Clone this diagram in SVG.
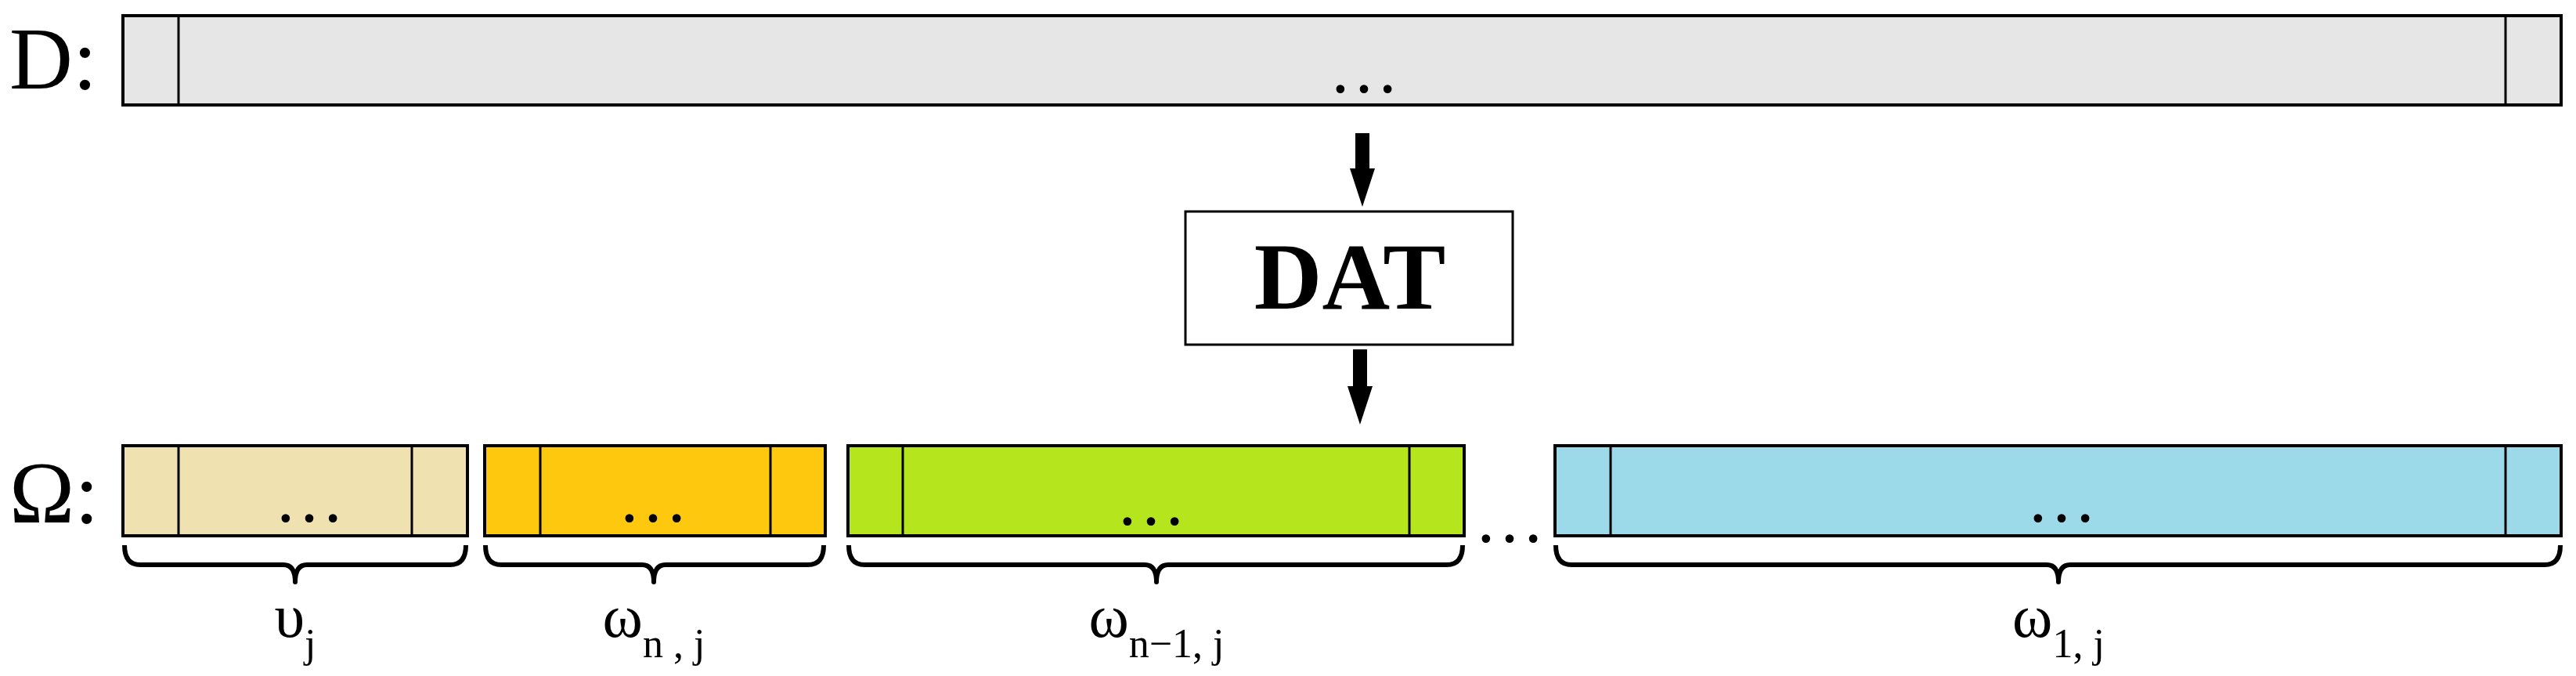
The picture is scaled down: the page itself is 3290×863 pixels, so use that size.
<svg xmlns="http://www.w3.org/2000/svg" width="3290" height="863" viewBox="0 0 3290 863" font-family="'Liberation Serif', 'Times New Roman', serif">
<style>
.box{stroke:#000;stroke-width:4}
.div{stroke:#000;stroke-width:3}
.brace{fill:none;stroke:#000;stroke-width:6;stroke-linejoin:round}
.dots{font-size:90px;text-anchor:middle}
.lab{font-size:78px;text-anchor:middle}
</style>
<rect width="3290" height="863" fill="#fff"/>
<g id="labelD"><text font-family="Liberation Serif, serif" x="12" y="113" font-size="112">D:</text></g>
<g id="labelOmega"><text font-family="Liberation Serif, serif" x="12" y="667" font-size="112">Ω:</text></g>
<g id="D">
<rect class="box" x="157" y="20" width="3114" height="114" fill="#e6e6e6"/>
<line class="div" x1="228" y1="20" x2="228" y2="134"/><line class="div" x1="3200" y1="20" x2="3200" y2="134"/>
<text class="dots" x="1742" y="118">…</text>
</g>
<g id="DAT">
<rect x="1514" y="270" width="418" height="170" fill="#fff" stroke="#000" stroke-width="3"/>
<text font-family="Liberation Serif, serif" x="1724" y="394" font-size="120" font-weight="bold" text-anchor="middle">DAT</text>
</g>
<g id="upsilon">
<rect class="box" x="157" y="569" width="440" height="115" fill="#efe2b0"/>
<line class="div" x1="228" y1="569" x2="228" y2="684"/><line class="div" x1="526" y1="569" x2="526" y2="684"/>
<text class="dots" x="395" y="666">…</text>
</g>
<g id="omega_n">
<rect class="box" x="619" y="569" width="435" height="115" fill="#fec80f"/>
<line class="div" x1="690" y1="569" x2="690" y2="684"/><line class="div" x1="984" y1="569" x2="984" y2="684"/>
<text class="dots" x="834" y="666">…</text>
</g>
<g id="omega_n1">
<rect class="box" x="1083" y="569" width="787" height="115" fill="#b5e51d"/>
<line class="div" x1="1153" y1="569" x2="1153" y2="684"/><line class="div" x1="1800" y1="569" x2="1800" y2="684"/>
<text class="dots" x="1470" y="670">…</text>
</g>
<g id="gap"><text class="dots" x="1928" y="692">…</text></g>
<g id="omega_1">
<rect class="box" x="1986" y="569" width="1285" height="115" fill="#9cd9e9"/>
<line class="div" x1="2057" y1="569" x2="2057" y2="684"/><line class="div" x1="3200" y1="569" x2="3200" y2="684"/>
<text class="dots" x="2633" y="666">…</text>
</g>
<g id="connectors" fill="#000">
<path d="M1731,170 H1749 V215 H1756 L1740,264 L1724,215 H1731 Z"/>
<path d="M1728,446 H1746 V493 H1753 L1737,542 L1721,493 H1728 Z"/>
</g>
<g id="braces">
<path class="brace" d="M159,696 Q159,721 179,721 L362,721 Q377,721 377,743 Q377,721 392,721 L575,721 Q595,721 595,696"/>
<path class="brace" d="M620,696 Q620,721 640,721 L820,721 Q835,721 835,743 Q835,721 850,721 L1032,721 Q1052,721 1052,696"/>
<path class="brace" d="M1084,696 Q1084,721 1104,721 L1462,721 Q1477,721 1477,743 Q1477,721 1492,721 L1848,721 Q1868,721 1868,696"/>
<path class="brace" d="M1987,696 Q1987,721 2007,721 L2614,721 Q2629,721 2629,743 Q2629,721 2644,721 L3250,721 Q3270,721 3270,696"/>
</g>
<g id="labels">
<text class="lab" x="377" y="813">υ<tspan dy="26" font-size="52">j</tspan></text>
<text class="lab" x="835" y="813">ω<tspan dy="26" font-size="52">n , j</tspan></text>
<text class="lab" x="1477" y="813">ω<tspan dy="26" font-size="52">n−1, j</tspan></text>
<text class="lab" x="2629" y="813">ω<tspan dy="26" font-size="52">1, j</tspan></text>
</g>
</svg>
